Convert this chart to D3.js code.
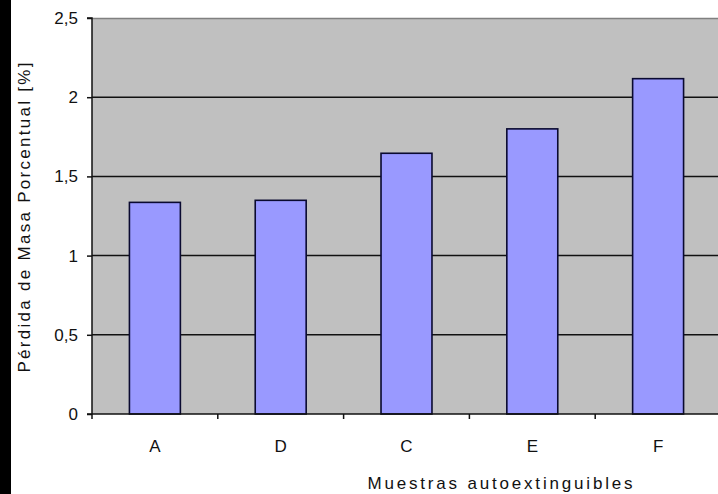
<!DOCTYPE html>
<html><head><meta charset="utf-8">
<script src="https://cdn.jsdelivr.net/npm/d3@7"></script>
<style>
html,body{margin:0;padding:0;background:#fff;}
svg{display:block;}
text{font-family:"Liberation Sans",Arial,sans-serif;fill:#111;}
</style></head>
<body><svg id="c" width="718" height="494"></svg>
<script>
const categories = ["A","D","C","E","F"];
const values = [1.336, 1.349, 1.646, 1.80, 2.117];
const yTicks = [0, 0.5, 1, 1.5, 2, 2.5];
const yTickLabels = ["0","0,5","1","1,5","2","2,5"];
const xTitle = "Muestras autoextinguibles";
const yTitle = "Pérdida de Masa Porcentual [%]";

const svg = d3.select("#c");
const L = 92, R = 721, T = 18, B = 414;
const FS = 17;

// black strip on left
svg.append("rect").attr("x",0).attr("y",0).attr("width",11).attr("height",494).attr("fill","#000");

const x = d3.scaleBand().domain(categories).range([L, R]).padding(0);
const y = d3.scaleLinear().domain([0, 2.5]).range([B, T]);

// plot background
svg.append("rect").attr("x",L).attr("y",T).attr("width",R-L).attr("height",B-T).attr("fill","#c0c0c0");
// top border
svg.append("line").attr("x1",L).attr("x2",R).attr("y1",T+0.5).attr("y2",T+0.5).attr("stroke","#808080").attr("stroke-width",1.5);

// gridlines
svg.append("g").selectAll("line").data(yTicks.filter(d=>d>0 && d<2.5)).join("line")
  .attr("x1",L).attr("x2",R).attr("y1",d=>y(d)).attr("y2",d=>y(d))
  .attr("stroke","#111").attr("stroke-width",1.5);

// bars
const bw = x.bandwidth()*0.405;
svg.append("g").selectAll("rect").data(categories).join("rect")
  .attr("x",(d)=>x(d)+(x.bandwidth()-bw)/2)
  .attr("y",(d,i)=>y(values[i]))
  .attr("width",bw)
  .attr("height",(d,i)=>B-y(values[i]))
  .attr("fill","#9999ff").attr("stroke","#0a0a30").attr("stroke-width",1.6);

// y axis
const yAxis = d3.axisLeft(y).tickValues(yTicks).tickSize(5).tickPadding(9)
  .tickFormat((d,i)=>yTickLabels[i]);
const gy = svg.append("g").attr("transform",`translate(${L},0)`).call(yAxis);
gy.select(".domain").attr("stroke","#111").attr("stroke-width",1.5).attr("d",`M-5,${T}H0V${B}`);
gy.selectAll(".tick line").attr("stroke","#111").attr("stroke-width",1.5);
gy.selectAll(".tick text").attr("font-size",FS).attr("fill","#111").attr("font-family","Liberation Sans, Arial, sans-serif");

// x axis: ticks at category boundaries
const boundaries = categories.map(c=>x(c)).concat([R]);
const gx = svg.append("g");
gx.append("line").attr("x1",L-5).attr("x2",R).attr("y1",B).attr("y2",B).attr("stroke","#111").attr("stroke-width",1.5);
gx.selectAll("line.t").data(boundaries).join("line").attr("class","t")
  .attr("x1",d=>d).attr("x2",d=>d).attr("y1",B).attr("y2",B+5).attr("stroke","#111").attr("stroke-width",1.5);
gx.selectAll("text").data(categories).join("text")
  .attr("x",d=>x(d)+x.bandwidth()/2).attr("y",452)
  .attr("text-anchor","middle").attr("font-size",FS).text(d=>d);

// titles
svg.append("text").attr("x",500).attr("y",489).attr("text-anchor","middle")
  .attr("font-size",FS).attr("textLength",265).attr("lengthAdjust","spacing").text(xTitle);
svg.append("text").attr("transform","translate(30,217.5) rotate(-90)").attr("text-anchor","middle")
  .attr("font-size",FS).attr("textLength",310).attr("lengthAdjust","spacing").text(yTitle);
</script></body></html>
